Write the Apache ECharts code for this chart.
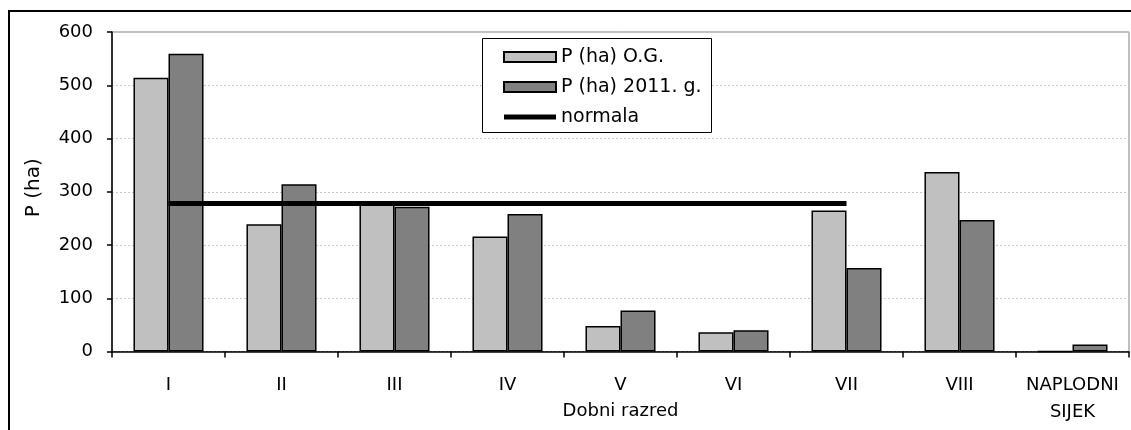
<!DOCTYPE html>
<html><head><meta charset="utf-8">
<script src="https://cdn.jsdelivr.net/npm/echarts@6/dist/echarts.min.js"></script>
<style>html,body{margin:0;padding:0;background:#fff}#c{width:1131px;height:430px}</style>
</head><body><div id="c"></div>
<script>
const categories = ['I', 'II', 'III', 'IV', 'V', 'VI', 'VII', 'VIII', 'NAPLODNI\nSIJEK'];
const pOG = [514, 239, 276, 216, 48, 36, 265, 337, 0];
const p2011 = [559, 314, 272, 258, 77, 40, 157, 247, 13];
const normala = [278, 278, 278, 278, 278, 278, 278, null, null];
const seriesNames = ['P (ha) O.G.', 'P (ha) 2011. g.', 'normala'];
const yMin = 0, yMax = 600, yStep = 100;

const FONT = 'DejaVu Sans';
const chart = echarts.init(document.getElementById('c'), null, {renderer: 'canvas'});
chart.setOption({
  animation: false,
  backgroundColor: '#fff',
  textStyle: {fontFamily: FONT, color: '#000'},
  graphic: [
    {type: 'rect', shape: {x: 9, y: 11, width: 1200, height: 500}, style: {fill: 'none', stroke: '#000', lineWidth: 2}, z: 0},
    {type: 'rect', shape: {x: 482.5, y: 38.5, width: 229, height: 94}, style: {fill: '#fff', stroke: '#000', lineWidth: 1}, z: 5}
  ],
  grid: {left: 112, right: 2, top: 32, bottom: 78.5, show: true, borderColor: '#808080', borderWidth: 1,
         backgroundColor: 'transparent', containLabel: false, outerBoundsMode: 'none'},
  legend: {
    orient: 'vertical', left: 498, top: 42, itemWidth: 52, itemHeight: 10, itemGap: 10, z: 10,
    textStyle: {fontFamily: FONT, fontSize: 19, color: '#000', lineHeight: 20},
    data: [
      {name: seriesNames[0], icon: 'rect'},
      {name: seriesNames[1], icon: 'rect'},
      {name: seriesNames[2], icon: 'path://M0,0M0,2.5L52,2.5L52,7.5L0,7.5ZM52,10', itemStyle: {color: '#000', borderWidth: 0}}
    ]
  },
  xAxis: {
    type: 'category', data: categories, boundaryGap: true,
    name: 'Dobni razred', nameLocation: 'middle', nameGap: 51, nameMoveOverlap: false,
    nameTextStyle: {fontFamily: FONT, fontSize: 18, color: '#000'},
    axisLine: {lineStyle: {color: '#000', width: 1.5}},
    axisTick: {show: true, length: 6, lineStyle: {color: '#000', width: 1.5}},
    axisLabel: {fontFamily: FONT, fontSize: 18, color: '#000', margin: 20, lineHeight: 27, interval: 0},
    splitLine: {show: false}
  },
  yAxis: {
    type: 'value', min: yMin, max: yMax, interval: yStep,
    name: 'P (ha)', nameLocation: 'middle', nameGap: 68, nameRotate: 90, nameMoveOverlap: false,
    nameTextStyle: {fontFamily: FONT, fontSize: 20, color: '#000', padding: [0, 0, 0, 8]},
    axisLine: {show: true, lineStyle: {color: '#000', width: 1.5}},
    axisTick: {show: true, length: 5, lineStyle: {color: '#000', width: 1.5}},
    axisLabel: {fontFamily: FONT, fontSize: 18, color: '#000', margin: 19},
    splitLine: {show: true, lineStyle: {color: '#c8c8c8', type: [2, 2], width: 1}}
  },
  series: [
    {name: seriesNames[0], type: 'bar', data: pOG, barGap: '0%', barCategoryGap: '38%',
     itemStyle: {color: '#c0c0c0', borderColor: '#000', borderWidth: 1.5}, z: 2},
    {name: seriesNames[1], type: 'bar', data: p2011, barGap: '0%', barCategoryGap: '38%',
     itemStyle: {color: '#808080', borderColor: '#000', borderWidth: 1.5}, z: 2},
    {name: seriesNames[2], type: 'line', data: normala, symbol: 'none', showSymbol: false, connectNulls: false,
     lineStyle: {color: '#000', width: 5}, itemStyle: {color: '#000'}, z: 4}
  ]
});
</script></body></html>
